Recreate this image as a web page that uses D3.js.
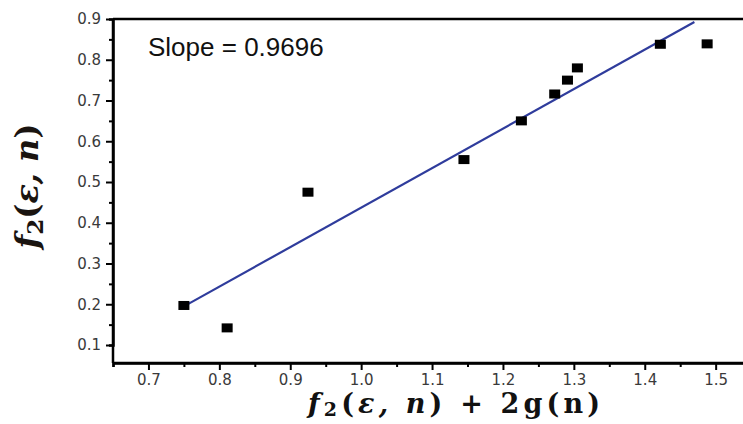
<!DOCTYPE html>
<html>
<head>
<meta charset="utf-8">
<script src="https://cdn.jsdelivr.net/npm/d3@7"></script>
<style>
  body { margin: 0; background: #fff; }
  svg { display: block; }
</style>
</head>
<body>
<svg id="chart" width="743" height="424"></svg>
<script>
// data
let xValues = [0.750, 0.811, 0.925, 1.145, 1.226, 1.273, 1.291, 1.305, 1.422, 1.488];
let yValues = [0.197, 0.142, 0.475, 0.555, 0.650, 0.716, 0.750, 0.780, 0.838, 0.839];
let slope = 0.9696;
let intercept = -0.5325;
let fitRange = [0.75, 1.47];
let xTicks = [0.7, 0.8, 0.9, 1.0, 1.1, 1.2, 1.3, 1.4, 1.5];
let yTicks = [0.1, 0.2, 0.3, 0.4, 0.5, 0.6, 0.7, 0.8, 0.9];

let svg = d3.select('#chart');
let pad = {t: 19, l: 113, b: 363};

let x = d3.scaleLinear().domain([0.65, 1.55]).range([pad.l, pad.l + 0.9 * 709]);
let y = d3.scaleLinear().domain([0.9, 0.1]).range([pad.t, 345]);

// frame (right side runs off the picture)
svg.append('line')
    .attr('x1', pad.l).attr('x2', 760)
    .attr('y1', pad.t).attr('y2', pad.t)
    .attr('stroke', '#000').attr('stroke-width', 2.5);

// minor ticks
let xMinor = d3.range(0.65, 1.56, 0.1).map(v => +v.toFixed(2));
let yMinor = d3.range(0.15, 0.9, 0.1).map(v => +v.toFixed(2));

let xAxis = svg.append('g')
    .attr('transform', 'translate(0,' + pad.b + ')')
    .call(d3.axisBottom(x).tickValues(xTicks).tickFormat(d3.format('.1f')).tickSize(7).tickPadding(4));
xAxis.append('g')
    .call(d3.axisBottom(x).tickValues(xMinor).tickFormat('').tickSize(4));

let yAxis = svg.append('g')
    .attr('transform', 'translate(' + pad.l + ',0)')
    .call(d3.axisLeft(y).tickValues(yTicks).tickFormat(d3.format('.1f')).tickSize(7).tickPadding(5));
yAxis.append('g')
    .call(d3.axisLeft(y).tickValues(yMinor).tickFormat('').tickSize(4));

// axis lines extend across whole plot
xAxis.select('.domain').attr('d', 'M' + pad.l + ',0H760');
yAxis.select('.domain').attr('d', 'M0,' + pad.t + 'V' + pad.b);

svg.selectAll('.domain').attr('stroke', '#000').attr('stroke-width', 2.5);
svg.selectAll('.tick line').attr('stroke', '#000').attr('stroke-width', 2);
svg.selectAll('.tick text')
    .attr('font-family', 'DejaVu Sans, sans-serif')
    .attr('font-size', '15px')
    .attr('fill', '#3a3a3a');

// fit line
svg.append('line')
    .attr('x1', x(fitRange[0])).attr('y1', y(slope * fitRange[0] + intercept))
    .attr('x2', x(fitRange[1])).attr('y2', y(slope * fitRange[1] + intercept))
    .attr('stroke', '#2f3c9c').attr('stroke-width', 2.2);

// points
let points = xValues.map((v, i) => ({x: v, y: yValues[i]}));
svg.selectAll('rect.pt').data(points).enter()
    .append('rect')
    .attr('class', 'pt')
    .attr('x', d => x(d.x) - 5.5)
    .attr('y', d => y(d.y) - 4.5)
    .attr('width', 11).attr('height', 9)
    .attr('fill', '#000');

// slope text
svg.append('text')
    .attr('x', 148).attr('y', 56)
    .attr('font-family', 'Liberation Sans, Arial, sans-serif')
    .attr('font-size', '26px')
    .attr('fill', '#111')
    .text('Slope = ' + slope);

// x axis title
let xt = svg.append('text')
    .attr('x', 308).attr('y', 413)
    .attr('textLength', 292)
    .attr('lengthAdjust', 'spacing')
    .attr('font-family', 'DejaVu Serif, serif')
    .attr('font-weight', 'bold')
    .attr('font-size', '27px')
    .attr('fill', '#111');
xt.append('tspan').attr('font-style', 'italic').text('f');
xt.append('tspan').attr('font-size', '19px').attr('dy', 3).text('2');
xt.append('tspan').attr('dy', -3).text('(');
xt.append('tspan').attr('font-style', 'italic').text('ε, n');
xt.append('tspan').text(') + 2g(n)');

// y axis title
let yt = svg.append('text')
    .attr('transform', 'translate(38,186) rotate(-90)')
    .attr('text-anchor', 'middle')
    .attr('font-family', 'DejaVu Serif, serif')
    .attr('font-weight', 'bold')
    .attr('font-size', '32px')
    .attr('fill', '#1a1410');
yt.append('tspan').attr('font-style', 'italic').text('f');
yt.append('tspan').attr('font-size', '23px').attr('dy', 5).text('2');
yt.append('tspan').attr('dy', -5).text('(');
yt.append('tspan').attr('font-style', 'italic').text('ε, n');
yt.append('tspan').text(')');
</script>
</body>
</html>
